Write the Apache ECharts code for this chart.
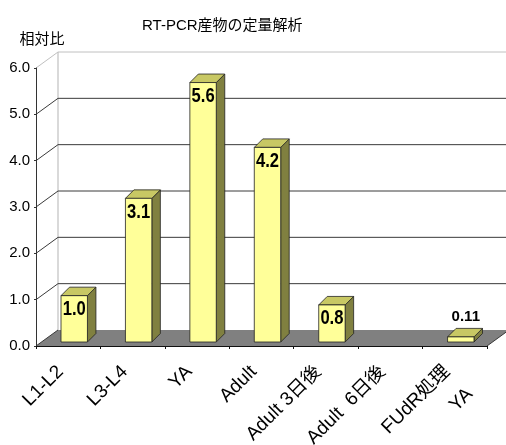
<!DOCTYPE html>
<html><head><meta charset="utf-8">
<script src="https://cdn.jsdelivr.net/npm/echarts@6/dist/echarts.min.js"></script>
<style>html,body{margin:0;padding:0;background:#fff}#c{width:506px;height:445px}</style>
</head><body><div id="c"></div>
<script>
// ---- data ----
const titleText = 'RT-PCR産物の定量解析';
const yAxisName = '相対比';
const categories = ['L1-L2', 'L3-L4', 'YA', 'Adult', 'Adult 3日後', 'Adult  6日後', 'FUdR処理\nYA'];
const values = [1.0, 3.1, 5.6, 4.2, 0.8, null, 0.11];
const yTicks = [0, 1, 2, 3, 4, 5, 6];

// ---- style constants (3D projection) ----
const FONT = "'Liberation Sans', 'Noto Sans CJK JP', sans-serif";
const WX = 22, WY = -16;     // depth of the floor / back wall
const FX = 6, FY = -4;       // bar front-face depth offset
const BX = 8.5, BY = -8.5;   // bar depth
const BAR_RATIO = 0.41;
const LINE_H = 32;
const LBL_PAD_R = 11;

function fmt(v) { return Number.isInteger(v) ? v.toFixed(1) : String(v); }

function renderWall(params, api) {
  const v = api.value(1);
  const cw = api.size([1, 0])[0];
  const n = categories.length;
  const pL = api.coord([0, v]);
  const pR = api.coord([n - 1, v]);
  const L = pL[0] - cw / 2, R = pR[0] + cw / 2, y = pL[1];
  const maxV = yTicks[yTicks.length - 1];
  const dark = '#3a3a3a', light = '#c0c0c0';
  const children = [];
  if (v === yTicks[0]) {
    const top = api.coord([0, maxV])[1];
    children.push({ type: 'line', shape: { x1: L + WX, y1: y + WY, x2: L + WX, y2: top + WY }, style: { stroke: light, lineWidth: 1.2 } });
    children.push({ type: 'polygon', shape: { points: [[L, y], [R, y], [R + WX, y + WY], [L + WX, y + WY]] }, style: { fill: '#808080', stroke: null } });
    children.push({ type: 'line', shape: { x1: L, y1: y, x2: L + WX, y2: y + WY }, style: { stroke: dark, lineWidth: 1 } });
    children.push({ type: 'line', shape: { x1: R, y1: y, x2: R + WX, y2: y + WY }, style: { stroke: dark, lineWidth: 1 } });
  } else {
    const col = v === maxV ? light : dark;
    children.push({ type: 'line', shape: { x1: L + WX, y1: y + WY, x2: R + WX + 20, y2: y + WY }, style: { stroke: col, lineWidth: 1 } });
    children.push({ type: 'line', shape: { x1: L, y1: y, x2: L + WX, y2: y + WY }, style: { stroke: col, lineWidth: 1 } });
  }
  return { type: 'group', children };
}

function renderBar(params, api) {
  const i = api.value(0), v = api.value(1);
  const c0 = api.coord([i, 0]);
  const c1 = api.coord([i, v]);
  const cw = api.size([1, 0])[0];
  const bw = cw * BAR_RATIO;
  const x0 = c0[0] + FX - bw / 2, x1 = x0 + bw;
  const yb = c0[1] + FY, yt = c1[1] + FY;
  const stroke = '#222';
  const children = [
    { type: 'polygon', shape: { points: [[x1, yt], [x1 + BX, yt + BY], [x1 + BX, yb + BY], [x1, yb]] }, style: { fill: '#808040', stroke, lineWidth: 0.8 } },
    { type: 'polygon', shape: { points: [[x0, yt], [x1, yt], [x1 + BX, yt + BY], [x0 + BX, yt + BY]] }, style: { fill: '#c8c864', stroke, lineWidth: 0.8 } },
    { type: 'rect', shape: { x: x0, y: yt, width: bw, height: yb - yt }, style: { fill: '#ffff99', stroke, lineWidth: 0.8 } }
  ];
  const inside = (yb - yt) > 24;
  if (inside) {
    children.push({
      type: 'text', x: (x0 + x1) / 2, y: yt + 14, scaleX: 0.83, scaleY: 1,
      style: { text: fmt(v), x: 0, y: 0, align: 'center', verticalAlign: 'middle', font: 'bold 20px ' + FONT, fill: '#000' }
    });
  } else {
    children.push({
      type: 'text', x: (x0 + x1) / 2 + 5, y: yt - 20,
      style: { text: fmt(v), x: 0, y: 0, align: 'center', verticalAlign: 'middle', font: 'bold 15px ' + FONT, fill: '#000' }
    });
  }
  return { type: 'group', children };
}

const barData = [];
values.forEach((v, i) => { if (v !== null) barData.push([i, v]); });

const xData = categories.map(c => c.indexOf('\n') >= 0
  ? { value: c, textStyle: { lineHeight: LINE_H } }
  : c);

const chart = echarts.init(document.getElementById('c'), null, { renderer: 'canvas' });
chart.setOption({
  animation: false,
  backgroundColor: '#fff',
  textStyle: { fontFamily: FONT },
  title: {
    text: titleText, left: 137, top: 13,
    textStyle: { fontSize: 15, fontWeight: 'normal', color: '#000', fontFamily: FONT }
  },
  grid: { left: 36, right: 19, top: 68, bottom: 99, containLabel: false, outerBoundsMode: 'none' },
  xAxis: {
    type: 'category', data: xData, z: 10,
    axisLine: { show: true, lineStyle: { color: '#111', width: 1 } },
    axisTick: { show: true, length: 3, lineStyle: { color: '#111' } },
    axisLabel: {
      rotate: 45, margin: 15, fontSize: 19, color: '#000', fontFamily: FONT, interval: 0,
      padding: [0, LBL_PAD_R, 0, 0],
      // a two-line label keeps its first line on the tick, the second line below it
      formatter: v => v.indexOf('\n') >= 0 ? '\n' + v : v
    },
    splitLine: { show: false }
  },
  yAxis: {
    type: 'value', min: 0, max: 6, interval: 1, z: 10,
    name: yAxisName, nameLocation: 'end', nameGap: 28,
    nameTextStyle: { fontSize: 15, color: '#000', fontFamily: FONT, align: 'center', verticalAlign: 'middle', padding: [0, 0, 0, 12] },
    axisLine: { show: true, lineStyle: { color: '#333', width: 1 } },
    axisTick: { show: true, length: 2, lineStyle: { color: '#333' } },
    axisLabel: { margin: 6, fontSize: 15, color: '#000', fontFamily: FONT, formatter: v => v.toFixed(1) },
    splitLine: { show: false }
  },
  series: [
    { type: 'custom', name: 'wall', renderItem: renderWall, data: yTicks.map(v => [0, v]), encode: { x: 0, y: 1 }, silent: true, z: 1 },
    { type: 'custom', name: '相対比', renderItem: renderBar, data: barData, encode: { x: 0, y: 1 }, z: 3 }
  ]
});
</script></body></html>
